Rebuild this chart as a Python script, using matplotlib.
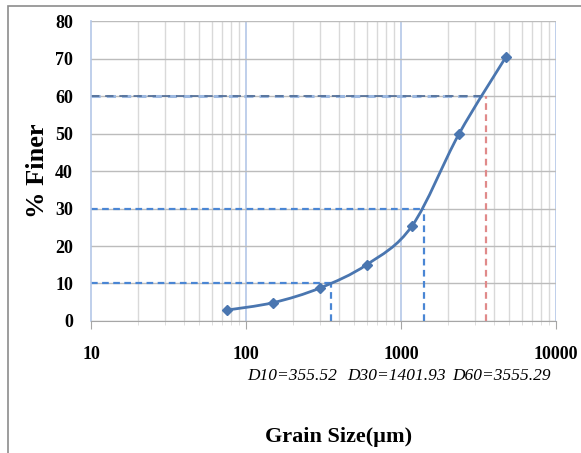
import numpy as np
import matplotlib
matplotlib.use("Agg")
import matplotlib.pyplot as plt
from matplotlib.path import Path
from matplotlib.patches import PathPatch, Rectangle

# sieve data
grain_size = [75, 150, 300, 600, 1180, 2360, 4750]
pct_finer = [2.9, 4.9, 8.8, 15.0, 25.4, 49.8, 70.4]

d_labels = ["D10", "D30", "D60"]
d_values = [355.52, 1401.93, 3555.29]
d_pct = [10, 30, 60]

plt.rcParams['font.family'] = ['Liberation Serif', 'DejaVu Serif']

fig = plt.figure(figsize=(5.81, 4.53), dpi=100)
ax = fig.add_axes([0.1566, 0.2914, 0.8004, 0.6622])

# outer chart border
fig.patches.append(Rectangle((8 / 581, -0.05), 1.1, 1 - 6 / 453 + 0.05,
                             transform=fig.transFigure, fill=False,
                             edgecolor='#8c8c8c', linewidth=1.2))

ax.set_xscale('log')
ax.set_xlim(10, 10000)
ax.set_ylim(0, 80)

# grid
ax.yaxis.grid(True, color='#bcbcbc', linewidth=1.0)
minor = [m * 10 ** e for e in range(1, 4) for m in range(2, 10)]
for m in minor:
    ax.axvline(m, color='#d9d9d9', linewidth=1.0, zorder=0)
for m in [100, 1000, 10000]:
    ax.axvline(m, color='#b4c7e7', linewidth=1.2, zorder=0)
ax.set_axisbelow(True)

for s in ['top', 'right']:
    ax.spines[s].set_visible(False)
ax.spines['left'].set_color('#b4c7e7')
ax.spines['left'].set_linewidth(1.2)
ax.spines['bottom'].set_color('#a6a6a6')

ax.set_yticks(range(0, 81, 10))
ax.set_xticks([10, 100, 1000, 10000])
ax.set_xticklabels(['10', '100', '1000', '10000'])
ax.xaxis.set_minor_locator(matplotlib.ticker.FixedLocator(minor))
ax.xaxis.set_minor_formatter(matplotlib.ticker.NullFormatter())
ax.tick_params(axis='y', length=0, pad=13, labelsize=13)
ax.tick_params(axis='x', which='major', length=6, color='#a6a6a6', pad=12, labelsize=13)
ax.tick_params(axis='x', which='minor', length=3, color='#d9d9d9')
for lab in ax.get_xticklabels() + ax.get_yticklabels():
    lab.set_fontweight('bold')

# D lines
ax.plot([10, d_values[0]], [10, 10], ls='--', color='#4a86d4', lw=1.6, dashes=(3, 2))
ax.plot([d_values[0], d_values[0]], [0, 10], ls='--', color='#4a86d4', lw=1.6, dashes=(3, 2))
ax.plot([10, d_values[1]], [30, 30], ls='--', color='#4a86d4', lw=1.6, dashes=(3, 2))
ax.plot([d_values[1], d_values[1]], [0, 30], ls='--', color='#4a86d4', lw=1.6, dashes=(3, 2))
ax.plot([10, d_values[2]], [60, 60], ls='--', color='#9cb8e0', lw=2.2, dashes=(3, 2))
ax.plot([10, d_values[2]], [60, 60], ls='--', color='#4d6a94', lw=1.2, dashes=(5, 3.5))
ax.plot([d_values[2], d_values[2]], [0, 60], ls='--', color='#e08a8a', lw=1.6, dashes=(3, 2))

# smooth curve (Excel-like cardinal spline) through points
lx = np.log10(grain_size)
py = np.array(pct_finer)
n = len(lx)
verts = [(grain_size[0], py[0])]
codes = [Path.MOVETO]
t = 1 / 6
for i in range(n - 1):
    x0, y0 = (lx[i - 1], py[i - 1]) if i > 0 else (lx[i], py[i])
    x1, y1 = lx[i], py[i]
    x2, y2 = lx[i + 1], py[i + 1]
    x3, y3 = (lx[i + 2], py[i + 2]) if i + 2 < n else (x2, y2)
    c1 = (x1 + (x2 - x0) * t, y1 + (y2 - y0) * t)
    c2 = (x2 - (x3 - x1) * t, y2 - (y3 - y1) * t)
    verts += [(10 ** c1[0], c1[1]), (10 ** c2[0], c2[1]), (10 ** x2, y2)]
    codes += [Path.CURVE4] * 3
ax.add_patch(PathPatch(Path(verts, codes), fill=False, edgecolor='#4a76b0', lw=2, zorder=3))
ax.plot(grain_size, pct_finer, ls='none', marker='D', ms=5, color='#4a76b0', zorder=4)

ax.set_ylabel('% Finer', fontsize=19, fontweight='bold', labelpad=4)

fig.text(0.4255, 0.161, "D10=355.52", fontsize=12.5, style='italic', ha='left')
fig.text(0.597, 0.161, "D30=1401.93", fontsize=12.5, style='italic', ha='left')
fig.text(0.779, 0.161, "D60=3555.29", fontsize=12.5, style='italic', ha='left')
fig.text(0.583, 0.025, "Grain Size(µm)", fontsize=16, fontweight='bold', ha='center')

fig.savefig('out.png', dpi=100)
